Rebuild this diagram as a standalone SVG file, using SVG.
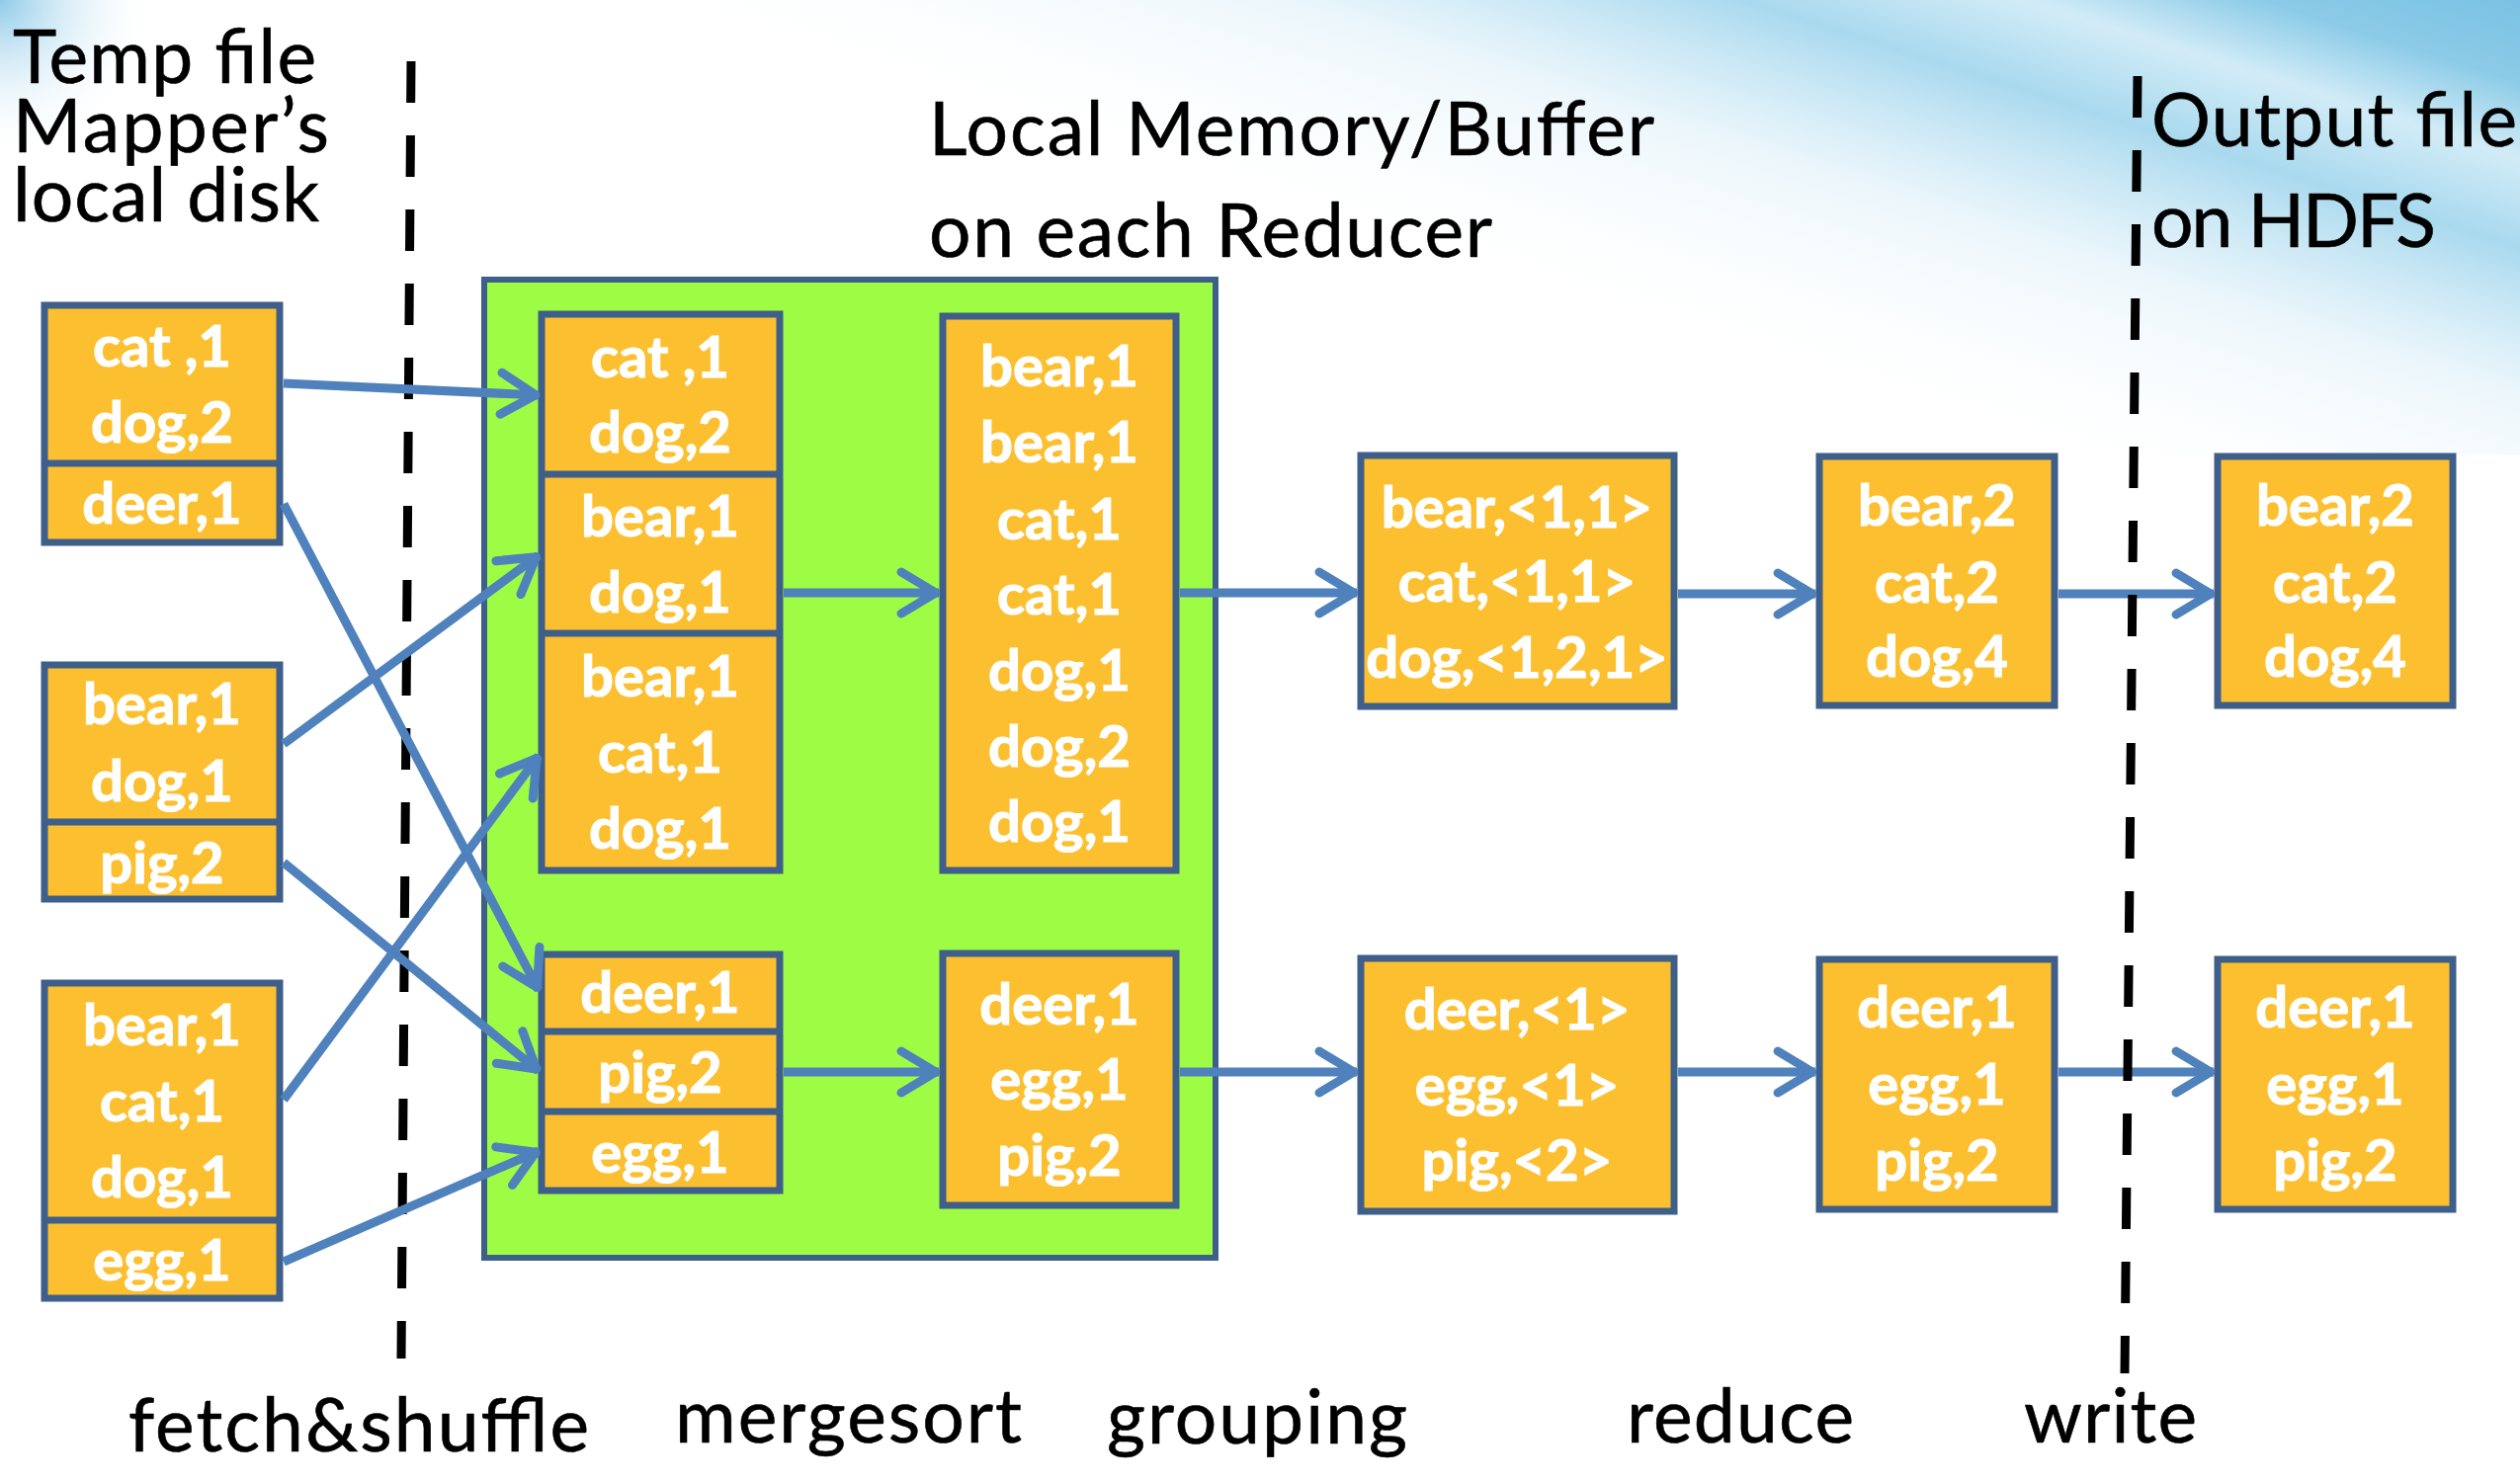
<svg xmlns="http://www.w3.org/2000/svg" width="2550" height="1502" viewBox="0 0 2550 1502">
<defs>
<linearGradient id="sky" gradientUnits="userSpaceOnUse" x1="1700" y1="360" x2="1920" y2="-330">
<stop offset="0" stop-color="#ffffff" stop-opacity="0"/>
<stop offset="0.3" stop-color="#e4f3fa" stop-opacity="0.7"/>
<stop offset="0.5" stop-color="#a9d9ee"/>
<stop offset="0.62" stop-color="#d2ecf7"/>
<stop offset="0.72" stop-color="#8ccbe7"/>
<stop offset="1" stop-color="#5db3dd"/>
</linearGradient>
<radialGradient id="corner" gradientUnits="userSpaceOnUse" cx="0" cy="0" r="160">
<stop offset="0" stop-color="#8fcbe8"/>
<stop offset="1" stop-color="#ffffff" stop-opacity="0"/>
</radialGradient>
<marker id="ah" viewBox="-50 -30 60 60" refX="0" refY="0" markerWidth="60" markerHeight="60" markerUnits="userSpaceOnUse" orient="auto">
<path d="M-38,-21 L-3,0 L-38,21" fill="none" stroke="#4F81BD" stroke-width="9" stroke-linecap="round" stroke-linejoin="round"/>
</marker>
<style>
.bx{fill:#FCBF2F;stroke:#3E5F8A;stroke-width:7}
.dv{stroke:#3E5F8A;stroke-width:7}
.t{font-family:Lato,"Open Sans","Liberation Sans",sans-serif;font-weight:bold;font-size:58px;fill:#ffffff;stroke:#ffffff;stroke-width:1.2;text-anchor:middle}
.lb{font-family:Lato,"Open Sans","Liberation Sans",sans-serif;font-size:75px;fill:#000000;stroke:#000000;stroke-width:0.6}
.cn{stroke:#4F81BD;stroke-width:9;fill:none;marker-end:url(#ah)}
.dash{stroke:#000000;stroke-width:9;stroke-dasharray:42 33;fill:none}
</style>
</defs>
<rect x="0" y="0" width="2550" height="1502" fill="#ffffff"/>
<rect x="0" y="0" width="2550" height="460" fill="url(#sky)"/>
<rect x="0" y="0" width="200" height="200" fill="url(#corner)"/>

<g id="labels">
<text class="lb" x="13" y="84" textLength="307">Temp file</text>
<text class="lb" x="13" y="154" textLength="320">Mapper’s</text>
<text class="lb" x="13" y="224" textLength="310">local disk</text>
<text class="lb" x="940" y="157" textLength="734">Local Memory/Buffer</text>
<text class="lb" x="940" y="260" textLength="570">on each Reducer</text>
<text class="lb" x="2177" y="148" textLength="370">Output file</text>
<text class="lb" x="2177" y="250" textLength="288">on HDFS</text>
<text class="lb" x="130" y="1469" textLength="466">fetch&amp;shuffle</text>
<text class="lb" x="683" y="1460" textLength="351">mergesort</text>
<text class="lb" x="1120" y="1461" textLength="304">grouping</text>
<text class="lb" x="1646" y="1460" textLength="230">reduce</text>
<text class="lb" x="2048" y="1460" textLength="175">write</text>
</g>

<g id="left-divider">
<line class="dash" x1="416" y1="62" x2="406" y2="1375"/>
</g>

<g id="buffer">
<rect x="490" y="283" width="740" height="990" fill="#9EFC45" stroke="#3E5F8A" stroke-width="6"/>
</g>

<g id="map1">
<rect class="bx" x="45" y="309" width="238" height="240"/>
<line class="dv" x1="45" y1="469" x2="283" y2="469"/>
<text class="t" x="164" y="371">cat ,1</text>
<text class="t" x="164" y="448">dog,2</text>
<text class="t" x="164" y="530">deer,1</text>
</g>
<g id="map2">
<rect class="bx" x="45" y="673" width="238" height="237"/>
<line class="dv" x1="45" y1="832" x2="283" y2="832"/>
<text class="t" x="164" y="733">bear,1</text>
<text class="t" x="164" y="811">dog,1</text>
<text class="t" x="164" y="894">pig,2</text>
</g>
<g id="map3">
<rect class="bx" x="45" y="995" width="238" height="319"/>
<line class="dv" x1="45" y1="1235" x2="283" y2="1235"/>
<text class="t" x="164" y="1058">bear,1</text>
<text class="t" x="164" y="1135">cat,1</text>
<text class="t" x="164" y="1212">dog,1</text>
<text class="t" x="164" y="1296">egg,1</text>
</g>

<g id="fetched1">
<rect class="bx" x="548" y="318" width="241" height="563"/>
<line class="dv" x1="548" y1="480" x2="789" y2="480"/>
<line class="dv" x1="548" y1="641" x2="789" y2="641"/>
<text class="t" x="668" y="382">cat ,1</text>
<text class="t" x="668" y="458">dog,2</text>
<text class="t" x="668" y="543">bear,1</text>
<text class="t" x="668" y="620">dog,1</text>
<text class="t" x="668" y="705">bear,1</text>
<text class="t" x="668" y="782">cat,1</text>
<text class="t" x="668" y="859">dog,1</text>
</g>
<g id="fetched2">
<rect class="bx" x="548" y="966" width="241" height="239"/>
<line class="dv" x1="548" y1="1044" x2="789" y2="1044"/>
<line class="dv" x1="548" y1="1125" x2="789" y2="1125"/>
<text class="t" x="668" y="1025">deer,1</text>
<text class="t" x="668" y="1106">pig,2</text>
<text class="t" x="668" y="1187">egg,1</text>
</g>

<g id="sorted1">
<rect class="bx" x="954" y="320" width="236" height="561"/>
<text class="t" x="1072" y="391">bear,1</text>
<text class="t" x="1072" y="468">bear,1</text>
<text class="t" x="1072" y="546">cat,1</text>
<text class="t" x="1072" y="622">cat,1</text>
<text class="t" x="1072" y="699">dog,1</text>
<text class="t" x="1072" y="776">dog,2</text>
<text class="t" x="1072" y="852">dog,1</text>
</g>
<g id="sorted2">
<rect class="bx" x="954" y="965" width="236" height="255"/>
<text class="t" x="1072" y="1037">deer,1</text>
<text class="t" x="1072" y="1113">egg,1</text>
<text class="t" x="1072" y="1190">pig,2</text>
</g>

<g id="group1">
<rect class="bx" x="1377" y="461" width="317" height="254"/>
<text class="t" x="1535" y="534">bear,&lt;1,1&gt;</text>
<text class="t" x="1535" y="609">cat,&lt;1,1&gt;</text>
<text class="t" x="1535" y="686">dog,&lt;1,2,1&gt;</text>
</g>
<g id="group2">
<rect class="bx" x="1377" y="970" width="317" height="256"/>
<text class="t" x="1535" y="1042">deer,&lt;1&gt;</text>
<text class="t" x="1535" y="1119">egg,&lt;1&gt;</text>
<text class="t" x="1535" y="1195">pig,&lt;2&gt;</text>
</g>

<g id="reduce1">
<rect class="bx" x="1841" y="462" width="238" height="252"/>
<text class="t" x="1960" y="532">bear,2</text>
<text class="t" x="1960" y="610">cat,2</text>
<text class="t" x="1960" y="685">dog,4</text>
</g>
<g id="reduce2">
<rect class="bx" x="1841" y="971" width="238" height="253"/>
<text class="t" x="1960" y="1040">deer,1</text>
<text class="t" x="1960" y="1118">egg,1</text>
<text class="t" x="1960" y="1195">pig,2</text>
</g>

<g id="output1">
<rect class="bx" x="2244" y="462" width="238" height="252"/>
<text class="t" x="2363" y="532">bear,2</text>
<text class="t" x="2363" y="610">cat,2</text>
<text class="t" x="2363" y="685">dog,4</text>
</g>
<g id="output2">
<rect class="bx" x="2244" y="971" width="238" height="253"/>
<text class="t" x="2363" y="1040">deer,1</text>
<text class="t" x="2363" y="1118">egg,1</text>
<text class="t" x="2363" y="1195">pig,2</text>
</g>

<g id="connectors">
<line class="cn" x1="287" y1="388" x2="545" y2="400"/>
<line class="cn" x1="287" y1="510" x2="545" y2="1002"/>
<line class="cn" x1="287" y1="753" x2="545" y2="562"/>
<line class="cn" x1="287" y1="873" x2="545" y2="1084"/>
<line class="cn" x1="287" y1="1113" x2="545" y2="765"/>
<line class="cn" x1="287" y1="1277" x2="545" y2="1165"/>
<line class="cn" x1="793" y1="600" x2="950" y2="600"/>
<line class="cn" x1="1194" y1="600" x2="1373" y2="600"/>
<line class="cn" x1="1698" y1="601" x2="1837" y2="601"/>
<line class="cn" x1="2083" y1="601" x2="2240" y2="601"/>
<line class="cn" x1="793" y1="1085" x2="950" y2="1085"/>
<line class="cn" x1="1194" y1="1085" x2="1373" y2="1085"/>
<line class="cn" x1="1698" y1="1085" x2="1837" y2="1085"/>
<line class="cn" x1="2083" y1="1085" x2="2240" y2="1085"/>
</g>

<g id="right-divider">
<line class="dash" x1="2163" y1="77" x2="2150" y2="1390"/>
</g>
</svg>
